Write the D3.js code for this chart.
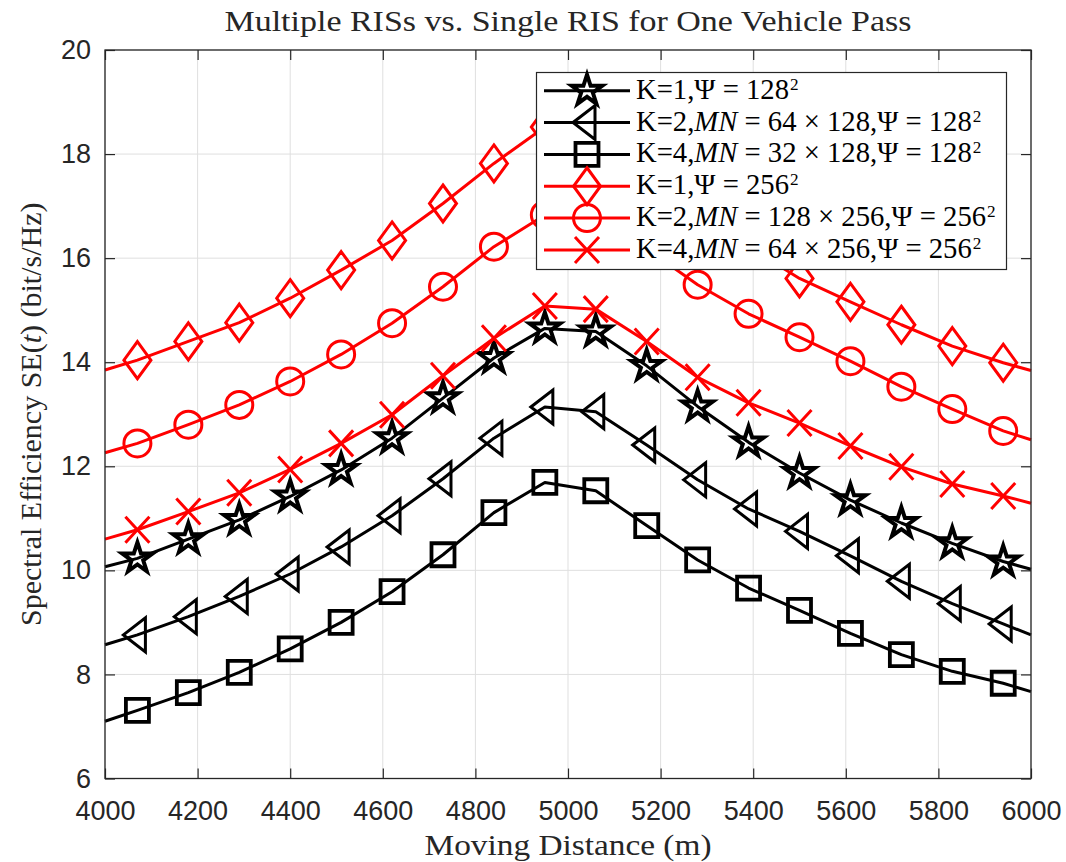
<!DOCTYPE html>
<html><head><meta charset="utf-8">
<script src="https://cdn.jsdelivr.net/npm/d3@7"></script>
<style>body{margin:0;background:#fff} svg{display:block}</style>
</head><body><svg id="c" width="1066" height="862"></svg>
<script>
// ---------------- data ----------------
const distances = [4000, 4070, 4180, 4290, 4400, 4510, 4620, 4730, 4840, 4950, 5060, 5170, 5280, 5390, 5500, 5610, 5720, 5830, 5940, 6000];
const markerDistances = [4070, 4180, 4290, 4400, 4510, 4620, 4730, 4840, 4950, 5060, 5170, 5280, 5390, 5500, 5610, 5720, 5830, 5940];

const seK1_128  = [10.07, 10.23, 10.60, 10.97, 11.42, 11.93, 12.54, 13.31, 14.08, 14.65, 14.59, 13.93, 13.15, 12.46, 11.87, 11.35, 10.91, 10.52, 10.17, 10.02];
const seK2_128  = [8.57, 8.76, 9.11, 9.50, 9.93, 10.45, 11.05, 11.76, 12.54, 13.14, 13.05, 12.41, 11.74, 11.18, 10.75, 10.28, 9.79, 9.36, 8.97, 8.76];
const seK4_128  = [7.10, 7.31, 7.65, 8.04, 8.49, 9.00, 9.59, 10.30, 11.11, 11.69, 11.53, 10.86, 10.20, 9.66, 9.23, 8.79, 8.38, 8.06, 7.83, 7.67];
const seK1_256  = [13.85, 14.04, 14.40, 14.76, 15.23, 15.77, 16.34, 17.05, 17.82, 18.52, 18.42, 17.68, 16.92, 16.22, 15.61, 15.16, 14.72, 14.31, 13.99, 13.84];
const seK2_256  = [12.26, 12.44, 12.80, 13.18, 13.63, 14.15, 14.75, 15.45, 16.22, 16.83, 16.78, 16.18, 15.49, 14.93, 14.48, 14.02, 13.53, 13.10, 12.68, 12.51];
const seK4_256  = [10.60, 10.78, 11.13, 11.49, 11.94, 12.44, 12.99, 13.74, 14.46, 15.08, 15.02, 14.40, 13.71, 13.22, 12.83, 12.39, 11.99, 11.66, 11.43, 11.29];

const xTicks = [4000, 4200, 4400, 4600, 4800, 5000, 5200, 5400, 5600, 5800, 6000];
const yTicks = [6, 8, 10, 12, 14, 16, 18, 20];

const titleText = "Multiple RISs vs. Single RIS for One Vehicle Pass";
const xLabelText = "Moving Distance (m)";

// legend: main text parts + superscript
const legendLabels = [
  {parts: [{t:"K=1,"},{t:"Ψ = 128"}], sup: "2"},
  {parts: [{t:"K=2,"},{t:"MN",it:1},{t:" = 64 × 128,Ψ = 128"}], sup: "2"},
  {parts: [{t:"K=4,"},{t:"MN",it:1},{t:" = 32 × 128,Ψ = 128"}], sup: "2"},
  {parts: [{t:"K=1,"},{t:"Ψ = 256"}], sup: "2"},
  {parts: [{t:"K=2,"},{t:"MN",it:1},{t:" = 128 × 256,Ψ = 256"}], sup: "2"},
  {parts: [{t:"K=4,"},{t:"MN",it:1},{t:" = 64 × 256,Ψ = 256"}], sup: "2"}
];

const series = [
  {values: seK1_128, color: "#000000", marker: "star"},
  {values: seK2_128, color: "#000000", marker: "triLeft"},
  {values: seK4_128, color: "#000000", marker: "square"},
  {values: seK1_256, color: "#ff0000", marker: "diamond"},
  {values: seK2_256, color: "#ff0000", marker: "circle"},
  {values: seK4_256, color: "#ff0000", marker: "x"}
];

// ---------------- layout ----------------
const L = 105, R = 1031, T = 50, B = 778.5;
const serif = "'Liberation Serif','Times New Roman',serif";
const sans = "'Liberation Sans',Arial,Helvetica,sans-serif";
const axisColor = "#262626";

const svg = d3.select("#c");
const x = d3.scaleLinear().domain([4000, 6000]).range([L, R]);
const y = d3.scaleLinear().domain([6, 20]).range([B, T]);

// grid
const grid = svg.append("g");
grid.selectAll("line.gx").data(xTicks).join("line")
  .attr("x1", d => x(d)).attr("x2", d => x(d)).attr("y1", T).attr("y2", B)
  .attr("stroke", "#dfdfdf").attr("stroke-width", 1);
grid.selectAll("line.gy").data(yTicks).join("line")
  .attr("y1", d => y(d)).attr("y2", d => y(d)).attr("x1", L).attr("x2", R)
  .attr("stroke", "#dfdfdf").attr("stroke-width", 1);

// axes (ticks inward on all sides)
function styleAxis(g) {
  g.selectAll("path.domain").remove();
  g.selectAll(".tick line").attr("stroke", axisColor).attr("stroke-width", 1.2);
}
const tickLen = 10;
svg.append("g").attr("transform", `translate(0,${B})`)
  .call(d3.axisBottom(x).tickValues(xTicks).tickSize(-tickLen).tickPadding(22).tickFormat(d3.format("d")))
  .call(styleAxis)
  .call(g => g.selectAll(".tick text").attr("font-family", sans).attr("font-size", 27).attr("fill", axisColor));
svg.append("g").attr("transform", `translate(0,${T})`)
  .call(d3.axisTop(x).tickValues(xTicks).tickSize(-tickLen).tickFormat(""))
  .call(styleAxis);
svg.append("g").attr("transform", `translate(${L},0)`)
  .call(d3.axisLeft(y).tickValues(yTicks).tickSize(-tickLen).tickPadding(14).tickFormat(d3.format("d")))
  .call(styleAxis)
  .call(g => g.selectAll(".tick text").attr("font-family", sans).attr("font-size", 27).attr("fill", axisColor));
svg.append("g").attr("transform", `translate(${R},0)`)
  .call(d3.axisRight(y).tickValues(yTicks).tickSize(-tickLen).tickFormat(""))
  .call(styleAxis);

// markers
function markerPath(type) {
  switch (type) {
    case "star": {
      const Ro = 16, Ri = 6.1; const p = d3.path();
      for (let k = 0; k < 10; k++) {
        const a = -Math.PI / 2 + k * Math.PI / 5, r = k % 2 ? Ri : Ro;
        k ? p.lineTo(r * Math.cos(a), r * Math.sin(a)) : p.moveTo(r * Math.cos(a), r * Math.sin(a));
      }
      p.closePath(); return p.toString();
    }
    case "triLeft": return "M-14,0L8,-17L8,17Z";
    case "square": return "M-11.5,-11.5h23v23h-23Z";
    case "diamond": return "M0,-18.5L13.5,0L0,18.5L-13.5,0Z";
    case "circle": return "M13.5,0A13.5,13.5 0 1 1 -13.5,0A13.5,13.5 0 1 1 13.5,0Z";
    case "x": return "M-12,-13L12,13M-12,13L12,-13";
  }
}
const markerStroke = {star: 4, triLeft: 3, square: 3.8, diamond: 3, circle: 3, x: 3};

const line = d3.line().x(d => x(d[0])).y(d => y(d[1]));
const plot = svg.append("g");
series.forEach(s => {
  const pts = distances.map((d, i) => [d, s.values[i]]);
  plot.append("path").attr("d", line(pts)).attr("fill", "none")
    .attr("stroke", s.color).attr("stroke-width", 3).attr("stroke-linejoin", "round");
  const mpts = pts.filter(p => markerDistances.includes(p[0]));
  plot.selectAll(null).data(mpts).join("path")
    .attr("transform", p => `translate(${x(p[0])},${y(p[1])})`)
    .attr("d", markerPath(s.marker)).attr("fill", "none")
    .attr("stroke", s.color).attr("stroke-width", markerStroke[s.marker]).attr("stroke-linejoin", "miter");
});

// box
svg.append("rect").attr("x", L).attr("y", T).attr("width", R - L).attr("height", B - T)
  .attr("fill", "none").attr("stroke", axisColor).attr("stroke-width", 1.3);

// title & labels
function fit(sel, w) { sel.attr("textLength", w).attr("lengthAdjust", "spacingAndGlyphs"); }
svg.append("text").attr("x", (L + R) / 2).attr("y", 31).attr("text-anchor", "middle")
  .attr("font-family", serif).attr("font-size", 30).attr("fill", axisColor).text(titleText)
  .call(fit, 687);
svg.append("text").attr("x", (L + R) / 2).attr("y", 855).attr("text-anchor", "middle")
  .attr("font-family", serif).attr("font-size", 30).attr("fill", axisColor).text(xLabelText)
  .call(fit, 287);
const yl = svg.append("text").attr("transform", `translate(41,${(T + B) / 2}) rotate(-90)`)
  .attr("text-anchor", "middle").attr("font-family", serif).attr("font-size", 30).attr("fill", axisColor);
yl.append("tspan").text("Spectral Efficiency SE(");
yl.append("tspan").attr("font-style", "italic").text("t");
yl.append("tspan").text(") (bit/s/Hz)");

// legend
const lg = svg.append("g");
const lx = 536.5, ly = 72.5, lw = 470, lh = 197;
lg.append("rect").attr("x", lx).attr("y", ly).attr("width", lw).attr("height", lh)
  .attr("fill", "#fff").attr("stroke", axisColor).attr("stroke-width", 1.2);
const rows = [];
legendLabels.forEach((lab, i) => {
  const cy = 90.7 + i * 31.85, s = series[i];
  lg.append("line").attr("x1", 544).attr("x2", 630).attr("y1", cy).attr("y2", cy)
    .attr("stroke", s.color).attr("stroke-width", 3);
  lg.append("path").attr("transform", `translate(587,${cy})`).attr("d", markerPath(s.marker))
    .attr("fill", "none").attr("stroke", s.color).attr("stroke-width", markerStroke[s.marker]);
  const t = lg.append("text").attr("x", 636).attr("y", cy + 8).attr("font-family", serif)
    .attr("font-size", 25).attr("fill", "#000");
  lab.parts.forEach(p => {
    const ts = t.append("tspan").text(p.t);
    if (p.it) ts.attr("font-style", "italic");
  });
  const sup = lg.append("text").attr("y", cy - 1).attr("font-family", serif)
    .attr("font-size", 16).attr("fill", "#000").text(lab.sup);
  rows.push({t, sup});
});
// scale legend font so row 2 (with superscript) spans the measured width
const w2 = rows[1].t.node().getComputedTextLength();
const fs = 25 * 336 / w2;
rows.forEach(r => {
  r.t.attr("font-size", fs);
  const w = r.t.node().getComputedTextLength();
  r.sup.attr("x", 636 + w + 1).attr("font-size", fs * 0.6);
});
</script>
</body></html>
